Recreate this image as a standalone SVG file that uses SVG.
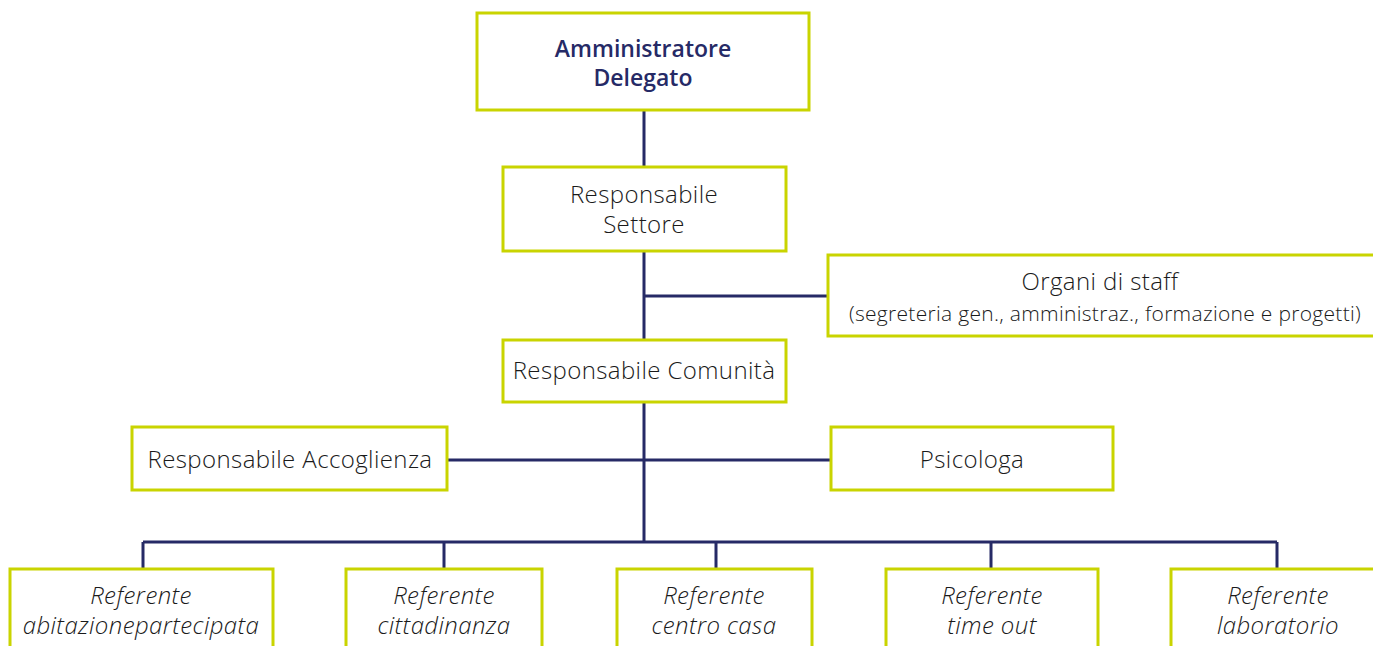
<svg xmlns="http://www.w3.org/2000/svg" width="1373" height="646" viewBox="0 0 1373 646">
<style>
.box{fill:#fff;stroke:#c9d400;stroke-width:3}
.ln{stroke:#262a66;stroke-width:3;fill:none}
.t{font-family:"Open Sans",Lato,sans-serif;font-size:24px;font-weight:300;letter-spacing:0.4px;fill:#1a1a1a;text-anchor:middle}
.b{font-weight:600;font-size:23px;letter-spacing:0;fill:#262a66}
.s{font-size:21px;letter-spacing:0.3px}
.i{font-style:italic}
</style>
<rect width="1373" height="646" fill="#fff"/>
<g id="connectors">
<path class="ln" d="M644 110V340M644 296H828M644 402V542M447 460H831M143 542H1277M143 542V569M444 542V569M716 542V569M991 542V569M1277 542V569"/>
</g>
<g id="n-ad"><rect class="box" x="477" y="13" width="332" height="97"/><text class="t b" x="643" y="57">Amministratore</text><text class="t b" x="643" y="86">Delegato</text></g>
<g id="n-rs"><rect class="box" x="503" y="167" width="283" height="84"/><text class="t" x="644" y="203">Responsabile</text><text class="t" x="644" y="233">Settore</text></g>
<g id="n-staff"><rect class="box" x="828" y="255" width="550" height="81"/><text class="t" x="1100" y="290">Organi di staff</text><text class="t s" x="1105" y="321">(segreteria gen., amministraz., formazione e progetti)</text></g>
<g id="n-rc"><rect class="box" x="503" y="340" width="283" height="62"/><text class="t" x="644" y="379">Responsabile Comunità</text></g>
<g id="n-ra"><rect class="box" x="132" y="427" width="315" height="63"/><text class="t" x="290" y="468">Responsabile Accoglienza</text></g>
<g id="n-ps"><rect class="box" x="831" y="427" width="282" height="63"/><text class="t" x="972" y="468">Psicologa</text></g>
<g id="n-r1"><rect class="box" x="10" y="569" width="263" height="90"/><text class="t i" x="141" y="604">Referente</text><text class="t i" x="141" y="634">abitazionepartecipata</text></g>
<g id="n-r2"><rect class="box" x="346" y="569" width="196" height="90"/><text class="t i" x="444" y="604">Referente</text><text class="t i" x="444" y="634">cittadinanza</text></g>
<g id="n-r3"><rect class="box" x="617" y="569" width="195" height="90"/><text class="t i" x="714" y="604">Referente</text><text class="t i" x="714" y="634">centro casa</text></g>
<g id="n-r4"><rect class="box" x="886" y="569" width="212" height="90"/><text class="t i" x="992" y="604">Referente</text><text class="t i" x="992" y="634">time out</text></g>
<g id="n-r5"><rect class="box" x="1171" y="569" width="210" height="90"/><text class="t i" x="1278" y="604">Referente</text><text class="t i" x="1278" y="634">laboratorio</text></g>
</svg>
